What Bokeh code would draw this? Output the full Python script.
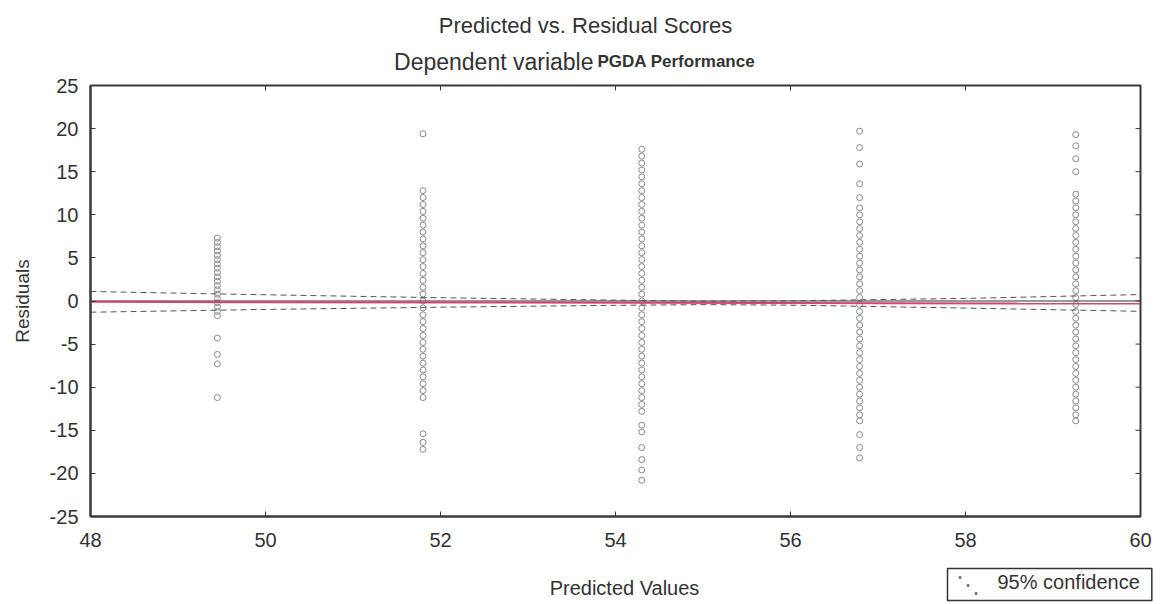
from bokeh.plotting import figure
from bokeh.models import Range1d, Label, FixedTicker, PrintfTickFormatter
from bokeh.embed import file_html
from bokeh.resources import INLINE

# ---- data ----
pred_values = [49.45, 51.80, 54.30, 56.79, 59.26]

res_49 = [7.3, 6.8, 6.3, 5.8, 5.3, 4.8, 4.3, 3.8, 3.3, 2.8, 2.3, 1.8, 1.3, 0.8, 0.3,
          -0.2, -0.7, -1.2, -1.7, -4.3, -6.2, -7.3, -11.2]
res_51 = [19.4, 12.8, 12.0, 11.2, 10.4, 9.6, 8.8, 8.0, 7.2, 6.4, 5.6, 4.8, 4.0, 3.2, 2.4,
          1.6, 0.8, 0.0, -0.8, -1.6, -2.4, -3.2, -4.0, -4.8, -5.6, -6.4, -7.2, -8.0, -8.8,
          -9.6, -10.4, -11.2, -15.4, -16.4, -17.2]
res_54 = [17.6, 16.8, 16.0, 15.2, 14.4, 13.6, 12.8, 12.0, 11.2, 10.4, 9.6, 8.8, 8.0, 7.2,
          6.4, 5.6, 4.8, 4.0, 3.2, 2.4, 1.6, 0.8, 0.0, -0.8, -1.6, -2.4, -3.2, -4.0, -4.8,
          -5.6, -6.4, -7.2, -8.0, -8.8, -9.6, -10.4, -11.2, -12.0, -12.8, -14.4, -15.2,
          -17.0, -18.4, -19.6, -20.8]
res_56 = [19.7, 17.8, 15.9, 13.6, 12.0, 10.8, 10.0, 9.2, 8.4, 7.6, 6.8, 6.0, 5.2, 4.4, 3.6,
          2.8, 2.0, 1.2, 0.4, -0.4, -1.2, -2.0, -2.8, -3.6, -4.4, -5.2, -6.0, -6.8, -7.6,
          -8.4, -9.2, -10.0, -10.8, -11.6, -12.4, -13.2, -13.9, -15.5, -17.0, -18.2]
res_59 = [19.3, 18.0, 16.5, 15.0, 12.4, 11.6, 10.8, 10.0, 9.2, 8.4, 7.6, 6.8, 6.0, 5.2, 4.4,
          3.6, 2.8, 2.0, 1.2, 0.4, -0.4, -1.2, -2.0, -2.8, -3.6, -4.4, -5.2, -6.0, -6.8,
          -7.6, -8.4, -9.2, -10.0, -10.8, -11.6, -12.4, -13.2, -13.9]
residual_columns = [res_49, res_51, res_54, res_56, res_59]

fit_x = [48, 60]
fit_y = [-0.1, -0.3]
zero_x = [48, 60]
zero_y = [0.0, 0.0]

band_x = [48, 50, 52, 54, 55, 56, 58, 60]
band_upper = [1.1, 0.72, 0.38, 0.10, -0.02, 0.02, 0.30, 0.75]
band_lower = [-1.3, -0.98, -0.72, -0.50, -0.42, -0.48, -0.82, -1.20]

x_ticks = [48, 50, 52, 54, 56, 58, 60]
y_ticks = [-25, -20, -15, -10, -5, 0, 5, 10, 15, 20, 25]

title_text = "Predicted vs. Residual Scores"
subtitle_a = "Dependent variable"
subtitle_b = "PGDA Performance"
x_label = "Predicted Values"
y_label = "Residuals"
legend_label = "95% confidence"
legend_symbol = "\u22f1"

FONT = "Liberation Sans"
INK = "#333333"
FRAME = "#3a3a3a"

X0, X1 = 48, 60
Y0, Y1 = -25, 25
W, H = 1164, 604
BL, BR, BT, BB = 90, 23, 85, 88

p = figure(width=W, height=H, output_backend="svg", toolbar_location=None,
           x_range=Range1d(X0, X1), y_range=Range1d(Y0, Y1),
           min_border_left=BL, min_border_right=BR, min_border_top=BT, min_border_bottom=BB)
p.background_fill_color = "white"
p.border_fill_color = "white"
p.outline_line_color = FRAME
p.outline_line_width = 2
p.xgrid.visible = False
p.ygrid.visible = False

# points
xs, ys = [], []
for pv, col in zip(pred_values, residual_columns):
    for r in col:
        xs.append(pv)
        ys.append(r)
p.scatter(xs, ys, marker="circle", size=6, fill_alpha=0, line_color="#8a8a8a", line_width=1)

# lines
p.line(zero_x, zero_y, line_color="#333333", line_width=1.2)
p.line(fit_x, fit_y, line_color="#d2456f", line_width=2)
p.line(band_x, band_upper, line_color="#555555", line_width=1, line_dash="6 4")
p.line(band_x, band_lower, line_color="#555555", line_width=1, line_dash="6 4")

# inward ticks on the right and top edges of the frame
frame_w_px = W - BL - BR
frame_h_px = H - BT - BB
dx_tick = 5 * (X1 - X0) / frame_w_px
dy_tick = 5 * (Y1 - Y0) / frame_h_px
p.segment(x0=[X1] * len(y_ticks), y0=y_ticks, x1=[X1 - dx_tick] * len(y_ticks), y1=y_ticks,
          line_color=FRAME, line_width=1)
p.segment(x0=x_ticks, y0=[Y1] * len(x_ticks), x1=x_ticks, y1=[Y1 - dy_tick] * len(x_ticks),
          line_color=FRAME, line_width=1)

for ax in (p.xaxis[0], p.yaxis[0]):
    ax.major_tick_in = 5
    ax.major_tick_out = 0
    ax.minor_tick_line_color = None
    ax.axis_line_color = FRAME
    ax.axis_line_width = 2
    ax.major_tick_line_color = FRAME
    ax.major_label_text_font = FONT
    ax.major_label_text_font_size = "20px"
    ax.major_label_text_color = INK
    ax.formatter = PrintfTickFormatter(format="%d")

p.xaxis.ticker = FixedTicker(ticks=x_ticks)
p.yaxis.ticker = FixedTicker(ticks=y_ticks)
p.xaxis.major_label_standoff = 16
p.yaxis.major_label_standoff = 12
p.yaxis.axis_label = y_label
p.yaxis.axis_label_text_font = FONT
p.yaxis.axis_label_text_font_size = "19px"
p.yaxis.axis_label_text_font_style = "normal"
p.yaxis.axis_label_text_color = INK
p.yaxis.axis_label_standoff = 14

# texts outside the frame: canvas units (origin top-left), kept in side panels so
# that they are not clipped to the frame
def canvas_label(place, x, y, text, size, align, style="normal", baseline="alphabetic",
                 color=INK, **kw):
    lab = Label(x=x, y=y, x_units="canvas", y_units="canvas", text=text,
                text_font=FONT, text_font_size=size, text_align=align,
                text_font_style=style, text_baseline=baseline, text_color=color, **kw)
    p.add_layout(lab, place)

canvas_label("above", 585, 25, title_text, "22px", "center")
canvas_label("above", 593, 61, subtitle_a, "23px", "right")
canvas_label("below", 597, 61, subtitle_b, "17px", "left", "bold")
canvas_label("below", 624, 587, x_label, "20px", "center")

# legend box (text with border) and its dashed symbol
canvas_label("above", 947, 584, legend_label, "20px", "left", baseline="middle",
             border_line_color=INK, border_line_width=1.5, background_fill_color="white",
             padding=dict(left=50, right=12, top=2, bottom=8))
canvas_label("right", 955, 584, legend_symbol, "24px", "left", baseline="middle",
             color="#777777")

open("out.html", "w").write(file_html(p, INLINE))
